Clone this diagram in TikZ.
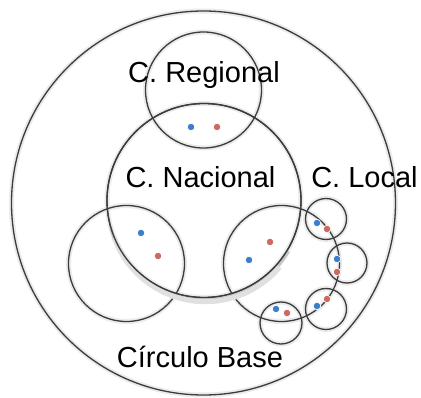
\documentclass[tikz,border=0pt]{standalone}
\usepackage{fontspec}
\setmainfont{Liberation Sans}
\definecolor{ringcol}{RGB}{60,60,60}
\definecolor{dotblue}{RGB}{60,125,205}
\definecolor{dotred}{RGB}{205,105,95}
\begin{document}
\begin{tikzpicture}[x=1pt,y=-1pt,
  ring/.style={circle, draw=ringcol, line width=1.3pt, inner sep=0pt, fill=none},
  glow/.style={circle, draw=black!8, line width=5pt, inner sep=0pt},
  bdot/.style={circle, fill=dotblue, draw=white, line width=0.7pt, minimum size=7.5pt, inner sep=0pt},
  rdot/.style={circle, fill=dotred, draw=white, line width=0.7pt, minimum size=7.5pt, inner sep=0pt},
  lbl/.style={font=\fontsize{29}{32}\selectfont, inner sep=0pt, anchor=base}]
\useasboundingbox[fill=white] (0,0) rectangle (421,398);
% glows
\foreach \p/\s in {{(203.5,203)}/384pt,{(203.5,90)}/116pt,{(204,200.5)}/194pt,{(126.5,263.5)}/116pt,{(281.5,263.5)}/116pt,{(326,219)}/41pt,{(347,263)}/40pt,{(326,309)}/41pt,{(281,323)}/42pt}
  \node[glow, minimum size=\s] at \p {};
% rings
\node[ring, minimum size=384pt] (base) at (203.5,203) {};
\node[ring, minimum size=116pt] (reg) at (203.5,90) {};
\node[ring, minimum size=194pt] (nac) at (204,200.5) {};
\node[ring, minimum size=116pt] (left) at (126.5,263.5) {};
\node[ring, minimum size=116pt] (loc) at (281.5,263.5) {};
\node[ring, minimum size=41pt] (s1) at (326,219) {};
\node[ring, minimum size=40pt] (s2) at (347,263) {};
\node[ring, minimum size=41pt] (s3) at (326,309) {};
\node[ring, minimum size=42pt] (s4) at (281,323) {};
% shadow under the national circle
\draw[black!22, line width=3pt] ([xshift=1.2pt,yshift=-2.2pt]nac.195) arc[start angle=195, end angle=330, radius=97pt];
\draw[black!12, line width=5pt] ([xshift=2pt,yshift=-4pt]nac.200) arc[start angle=200, end angle=320, radius=97pt];
\node[ring, minimum size=194pt] at (204,200.5) {};
% dots
\node[bdot] (b1) at (191,127) {};
\node[rdot] (r1) at (217,127) {};
\node[bdot] (b2) at (141,233) {};
\node[rdot] (r2) at (158,256) {};
\node[rdot] (r3) at (270,242) {};
\node[bdot] (b3) at (249,260) {};
\node[bdot] (b4) at (317,223) {};
\node[rdot] (r4) at (327,229) {};
\node[bdot] (b5) at (337,259) {};
\node[rdot] (r5) at (337,272) {};
\node[bdot] (b6) at (317,306) {};
\node[rdot] (r6) at (327,299) {};
\node[bdot] (b7) at (276,309) {};
\node[rdot] (r7) at (287,313) {};
% labels
\node[lbl] (treg) at (204,83) {C. Regional};
\node[lbl] (tnac) at (200.5,188) {C. Nacional};
\node[lbl] (tloc) at (364.5,188) {C. Local};
\node[lbl] (tbase) at (200,368) {Círculo Base};
\end{tikzpicture}
\end{document}
